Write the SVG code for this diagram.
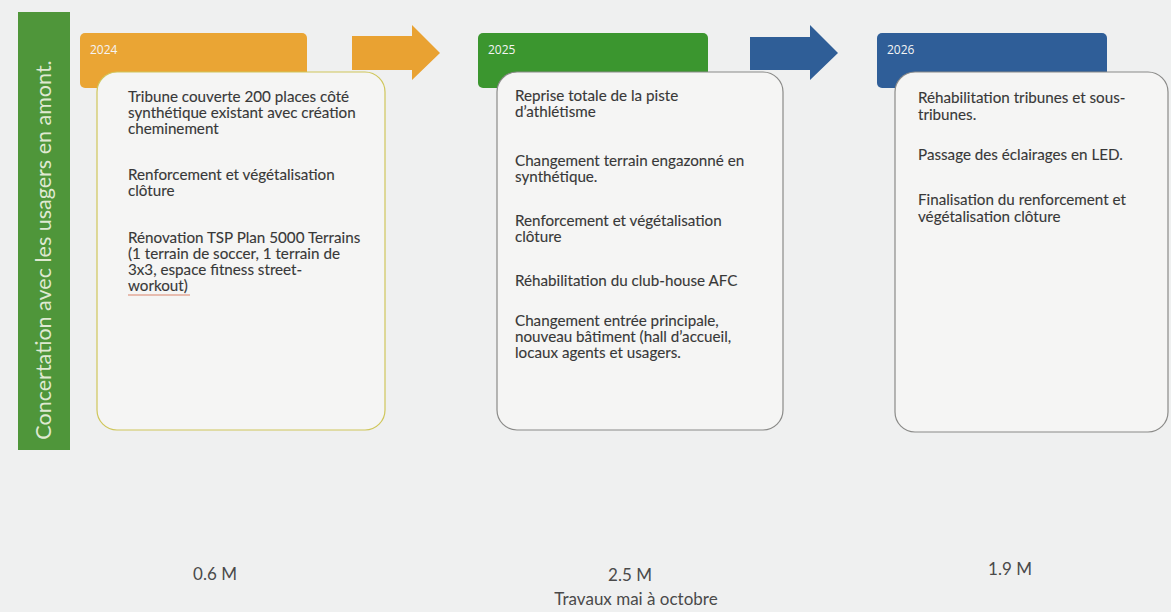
<svg xmlns="http://www.w3.org/2000/svg" width="1171" height="612" viewBox="0 0 1171 612">
  <style>
    .hdr { stroke: none; }
    .card { fill: #f5f5f4; stroke-width: 1.2; }
    .body { font-family: Lato, "Open Sans", "Liberation Sans", sans-serif; font-size: 15.2px; fill: #383838; stroke: #383838; stroke-width: 0.12; }
    .year { font-family: "Open Sans", Lato, "Liberation Sans", sans-serif; font-size: 12px; fill: #f4f4f4; }
    .amt { font-family: Lato, "Liberation Sans", sans-serif; font-size: 17px; fill: #4a4a4a; text-anchor: middle; }
  </style>
  <rect x="0" y="0" width="1171" height="612" fill="#eff0f0"/>

  <g id="concertation">
    <rect x="18" y="12" width="52" height="438" fill="#4f963a"/>
    <text transform="translate(51,250) rotate(-90)" text-anchor="middle" font-family="Lato, 'Liberation Sans', sans-serif" font-size="21.5" fill="#dfe9d2">Concertation avec les usagers en amont.</text>
  </g>

  <g id="connectors">
    <path d="M352,36 H412 V25 L440,53 L412,80 V70 H352 Z" fill="#e9a232"/>
    <path d="M750,37 H810 V25 L838,53 L810,80 V70 H750 Z" fill="#2f5e97"/>
  </g>

  <g id="node-2024">
    <rect class="hdr" x="80" y="33" width="227" height="55" rx="5" fill="#eaa534"/>
    <text class="year" x="90" y="54" fill="#f3dca8">2024</text>
    <rect class="card" x="97" y="72" width="288" height="358" rx="20" stroke="#cfc65a"/>
    <text class="body">
      <tspan x="128" y="102">Tribune couverte 200 places côté</tspan>
      <tspan x="128" y="118">synthétique existant avec création</tspan>
      <tspan x="128" y="134">cheminement</tspan>
      <tspan x="128" y="180">Renforcement et végétalisation</tspan>
      <tspan x="128" y="196">clôture</tspan>
      <tspan x="128" y="243">Rénovation TSP Plan 5000 Terrains</tspan>
      <tspan x="128" y="259">(1 terrain de soccer, 1 terrain de</tspan>
      <tspan x="128" y="275">3x3, espace fitness street-</tspan>
      <tspan x="128" y="291">workout)</tspan>
    </text>
    <line x1="128" y1="295" x2="190" y2="295" stroke="#d9836a" stroke-width="1"/>
  </g>

  <g id="node-2025">
    <rect class="hdr" x="478" y="33" width="230" height="55" rx="5" fill="#3b962f"/>
    <text class="year" x="488" y="54">2025</text>
    <rect class="card" x="497" y="72" width="286" height="358" rx="20" stroke="#8a8a88"/>
    <text class="body">
      <tspan x="515" y="101">Reprise totale de la piste</tspan>
      <tspan x="515" y="117">d’athlétisme</tspan>
      <tspan x="515" y="166">Changement terrain engazonné en</tspan>
      <tspan x="515" y="182">synthétique.</tspan>
      <tspan x="515" y="226">Renforcement et végétalisation</tspan>
      <tspan x="515" y="242">clôture</tspan>
      <tspan x="515" y="286">Réhabilitation du club-house AFC</tspan>
      <tspan x="515" y="326">Changement entrée principale,</tspan>
      <tspan x="515" y="342">nouveau bâtiment (hall d’accueil,</tspan>
      <tspan x="515" y="358">locaux agents et usagers.</tspan>
    </text>
  </g>

  <g id="node-2026">
    <rect class="hdr" x="877" y="33" width="230" height="55" rx="5" fill="#2f5e98"/>
    <text class="year" x="887" y="54">2026</text>
    <rect class="card" x="895" y="72" width="273" height="360" rx="20" stroke="#8a8a88"/>
    <text class="body">
      <tspan x="918" y="103">Réhabilitation tribunes et sous-</tspan>
      <tspan x="918" y="120">tribunes.</tspan>
      <tspan x="918" y="160">Passage des éclairages en LED.</tspan>
      <tspan x="918" y="205">Finalisation du renforcement et</tspan>
      <tspan x="918" y="222">végétalisation clôture</tspan>
    </text>
  </g>

  <g id="amounts">
    <text class="amt" x="215" y="580">0.6 M</text>
    <text class="amt" x="630" y="581">2.5 M</text>
    <text class="amt" x="1010" y="575">1.9 M</text>
    <text class="amt" x="636" y="605" font-size="16">Travaux mai à octobre</text>
  </g>
</svg>
